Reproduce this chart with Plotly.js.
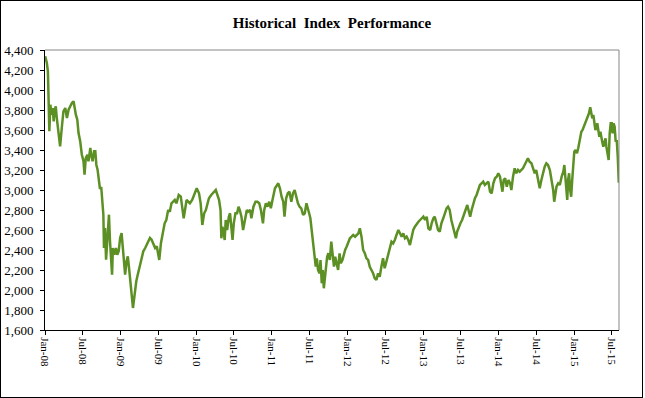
<!DOCTYPE html>
<html>
<head>
<meta charset="utf-8">
<script src="https://cdn.plot.ly/plotly-3.0.1.min.js"></script>
<style>
  html, body { margin: 0; padding: 0; background: #fff; }
  #wrap { position: absolute; left: 0; top: 0; width: 643px; height: 398px; border: 1px solid #000; box-sizing: border-box; }
  #chart { width: 641px; height: 396px; }
</style>
</head>
<body>
<div id="wrap"><div id="chart"></div></div>
<script>
// ---- Data ----
const chartTitle = 'Historical  Index  Performance';
const yTickStep = 200;
const yRange = [1600, 4400];
const xRange = ['2008-01-01', '2015-08-05'];

const dates2008 = ['2008-01-02','2008-01-10','2008-01-15','2008-01-18','2008-01-22','2008-01-27','2008-02-01','2008-02-07','2008-02-12','2008-02-16','2008-02-22','2008-02-27','2008-03-06','2008-03-14','2008-03-22','2008-03-30','2008-04-08','2008-04-16','2008-04-24','2008-05-01','2008-05-10','2008-05-18','2008-05-23','2008-05-29','2008-06-05','2008-06-11','2008-06-19','2008-06-27','2008-07-05','2008-07-10','2008-07-16','2008-07-24','2008-07-29','2008-08-07','2008-08-11','2008-08-18','2008-08-25','2008-08-31','2008-09-05','2008-09-11','2008-09-16','2008-09-22','2008-09-29','2008-10-04','2008-10-09','2008-10-12','2008-10-17','2008-10-22','2008-10-27','2008-11-01','2008-11-05','2008-11-10','2008-11-15','2008-11-20','2008-11-24','2008-12-01','2008-12-09','2008-12-15','2008-12-22','2008-12-29'];
const values2008 = [4337,4270,4187,3987,3587,3853,3753,3820,3687,3787,3837,3720,3587,3437,3620,3787,3820,3720,3803,3837,3870,3887,3803,3753,3703,3570,3487,3353,3287,3153,3320,3353,3287,3420,3353,3287,3387,3387,3253,3203,3120,3020,3020,2887,2753,2420,2620,2303,2487,2553,2753,2487,2353,2153,2420,2353,2420,2353,2387,2520];

const dates2009 = ['2009-01-05','2009-01-11','2009-01-16','2009-01-22','2009-01-29','2009-02-04','2009-02-10','2009-02-16','2009-02-22','2009-03-01','2009-03-05','2009-03-11','2009-03-17','2009-03-24','2009-03-31','2009-04-06','2009-04-12','2009-04-20','2009-04-29','2009-05-06','2009-05-14','2009-05-22','2009-05-30','2009-06-08','2009-06-16','2009-06-24','2009-07-06','2009-07-14','2009-07-22','2009-08-01','2009-08-09','2009-08-18','2009-08-26','2009-09-03','2009-09-11','2009-09-19','2009-09-27','2009-10-08','2009-10-18','2009-10-26','2009-11-01','2009-11-15','2009-11-23','2009-12-01','2009-12-12','2009-12-25'];
const values2009 = [2570,2420,2253,2153,2287,2337,2220,2087,1953,1820,1887,2020,2087,2153,2220,2287,2320,2387,2420,2453,2487,2520,2503,2453,2420,2437,2300,2467,2567,2667,2700,2800,2783,2867,2883,2900,2867,2950,2933,2800,2717,2900,2883,2867,2900,2983];

const dates2010 = ['2010-01-03','2010-01-14','2010-01-22','2010-01-30','2010-02-08','2010-02-16','2010-02-26','2010-03-03','2010-03-14','2010-03-27','2010-04-05','2010-04-13','2010-04-21','2010-04-28','2010-05-02','2010-05-07','2010-05-13','2010-05-18','2010-05-23','2010-05-30','2010-06-07','2010-06-13','2010-06-18','2010-06-25','2010-07-01','2010-07-09','2010-07-17','2010-07-24','2010-07-30','2010-08-07','2010-08-15','2010-08-23','2010-09-02','2010-09-08','2010-09-18','2010-09-24','2010-10-04','2010-10-14','2010-10-23','2010-11-01','2010-11-09','2010-11-19','2010-11-25','2010-12-03','2010-12-11','2010-12-19','2010-12-27'];
const values2010 = [3017,2967,2867,2650,2767,2800,2883,2917,2950,2983,3000,2950,2900,2800,2517,2633,2583,2500,2700,2600,2733,2767,2667,2500,2667,2767,2767,2833,2800,2733,2600,2700,2800,2783,2800,2717,2833,2883,2883,2867,2800,2667,2800,2867,2833,2883,2817];

const dates2011 = ['2011-01-04','2011-01-12','2011-01-16','2011-02-01','2011-02-09','2011-02-17','2011-02-25','2011-03-03','2011-03-11','2011-03-19','2011-03-27','2011-04-05','2011-04-13','2011-04-21','2011-04-29','2011-05-07','2011-05-15','2011-05-23','2011-06-01','2011-06-09','2011-06-17','2011-06-25','2011-06-30','2011-07-06','2011-07-12','2011-07-19','2011-07-25','2011-08-01','2011-08-06','2011-08-12','2011-08-19','2011-08-24','2011-08-30','2011-09-04','2011-09-09','2011-09-14','2011-09-19','2011-09-25','2011-10-01','2011-10-08','2011-10-15','2011-10-21','2011-10-28','2011-11-03','2011-11-09','2011-11-17','2011-11-24','2011-11-30','2011-12-08','2011-12-15','2011-12-21','2011-12-28'];
const values2011 = [2900,2983,3017,3067,3017,2933,2883,2733,2917,2967,2983,2883,2967,3000,2917,2867,2833,2817,2750,2767,2867,2783,2767,2717,2600,2467,2300,2233,2317,2200,2167,2300,2067,2200,2017,2133,2200,2333,2367,2300,2483,2333,2233,2333,2267,2200,2367,2267,2300,2367,2400,2433];

const dates2012 = ['2012-01-05','2012-01-13','2012-01-21','2012-01-29','2012-02-07','2012-02-15','2012-02-23','2012-03-01','2012-03-09','2012-03-17','2012-03-25','2012-04-02','2012-04-10','2012-04-18','2012-04-26','2012-05-04','2012-05-12','2012-05-20','2012-05-28','2012-06-05','2012-06-13','2012-06-21','2012-06-29','2012-07-07','2012-07-15','2012-07-23','2012-08-01','2012-08-09','2012-08-17','2012-08-25','2012-09-03','2012-09-11','2012-09-19','2012-09-27','2012-10-05','2012-10-13','2012-10-21','2012-10-29','2012-11-06','2012-11-14','2012-11-22','2012-12-01','2012-12-09','2012-12-17','2012-12-25'];
const values2012 = [2483,2517,2533,2550,2533,2550,2567,2617,2533,2400,2367,2317,2300,2233,2200,2167,2117,2100,2167,2133,2233,2317,2217,2283,2367,2433,2483,2467,2500,2550,2600,2567,2533,2567,2517,2533,2500,2450,2533,2600,2633,2667,2683,2700,2717];

const dates2013 = ['2013-01-02','2013-01-10','2013-01-18','2013-01-26','2013-02-04','2013-02-11','2013-02-19','2013-02-26','2013-03-06','2013-03-14','2013-03-22','2013-03-30','2013-04-08','2013-04-16','2013-04-24','2013-05-01','2013-05-09','2013-05-17','2013-05-25','2013-06-03','2013-06-08','2013-06-14','2013-06-22','2013-06-30','2013-07-08','2013-07-16','2013-07-24','2013-08-02','2013-08-10','2013-08-16','2013-08-23','2013-08-31','2013-09-08','2013-09-16','2013-09-24','2013-10-02','2013-10-10','2013-10-18','2013-10-26','2013-11-04','2013-11-12','2013-11-20','2013-11-28','2013-12-06','2013-12-14','2013-12-22','2013-12-30'];
const values2013 = [2733,2700,2733,2617,2600,2667,2717,2733,2667,2600,2583,2667,2717,2767,2817,2833,2800,2700,2633,2567,2517,2583,2633,2667,2700,2750,2800,2850,2783,2733,2800,2867,2917,2950,3000,3050,3067,3083,3050,3067,3083,2983,2967,3067,3117,3133,3167];

const dates2014 = ['2014-01-07','2014-01-12','2014-01-19','2014-01-25','2014-02-01','2014-02-09','2014-02-17','2014-02-25','2014-03-03','2014-03-11','2014-03-19','2014-03-27','2014-04-04','2014-04-12','2014-04-20','2014-04-28','2014-05-06','2014-05-14','2014-05-22','2014-05-30','2014-06-08','2014-06-16','2014-06-24','2014-07-01','2014-07-09','2014-07-18','2014-07-26','2014-08-03','2014-08-11','2014-08-19','2014-08-27','2014-09-05','2014-09-13','2014-09-21','2014-09-26','2014-10-01','2014-10-07','2014-10-15','2014-10-23','2014-11-01','2014-11-09','2014-11-14','2014-11-18','2014-11-23','2014-11-28','2014-12-02','2014-12-07','2014-12-12','2014-12-17','2014-12-22','2014-12-27'];
const values2014 = [3133,3050,2983,3100,3117,3033,3100,3067,3000,3133,3217,3167,3200,3183,3200,3217,3250,3283,3317,3283,3267,3217,3167,3200,3117,3017,3100,3167,3233,3267,3250,3200,3100,3000,2883,2983,3033,3067,3050,3133,3183,3250,3133,3000,2900,3100,3167,3000,2933,3100,3233];

const dates2015 = ['2015-01-01','2015-01-07','2015-01-14','2015-01-20','2015-01-28','2015-02-04','2015-02-10','2015-02-16','2015-02-22','2015-02-28','2015-03-06','2015-03-13','2015-03-19','2015-03-24','2015-03-29','2015-04-03','2015-04-08','2015-04-13','2015-04-17','2015-04-22','2015-04-27','2015-05-02','2015-05-07','2015-05-12','2015-05-16','2015-05-21','2015-05-26','2015-06-01','2015-06-05','2015-06-11','2015-06-16','2015-06-21','2015-06-26','2015-07-01','2015-07-05','2015-07-10','2015-07-15','2015-07-20','2015-07-25','2015-07-30','2015-08-04'];
const values2015 = [3383,3400,3367,3417,3533,3583,3600,3633,3683,3700,3733,3767,3827,3767,3717,3750,3667,3600,3617,3667,3600,3533,3583,3500,3483,3433,3467,3517,3433,3367,3300,3567,3667,3667,3567,3667,3633,3483,3500,3333,3073];

const allDates = [].concat(dates2008, dates2009, dates2010, dates2011, dates2012, dates2013, dates2014, dates2015);
const allValues = [].concat(values2008, values2009, values2010, values2011, values2012, values2013, values2014, values2015);

// ---- Styling ----
const serif = 'Liberation Serif, Times New Roman, serif';
const trace = {
  type: 'scatter', mode: 'lines',
  x: allDates, y: allValues,
  line: { color: '#5c9024', width: 2.5 },
  hoverinfo: 'skip', showlegend: false
};

const layout = {
  width: 641, height: 396,
  margin: { l: 44, r: 23, t: 49, b: 67, pad: 0 },
  paper_bgcolor: '#fff', plot_bgcolor: '#fff',
  title: {
    text: '<b>' + chartTitle + '</b>',
    font: { family: serif, size: 15, color: '#000' },
    x: 0.5, xref: 'paper', xanchor: 'center',
    y: 1 - 22/396, yref: 'container', yanchor: 'middle'
  },
  xaxis: {
    type: 'date', range: xRange,
    tick0: '2008-01-01', dtick: 'M6', tickformat: '%b-%y',
    tickangle: 90, ticks: 'outside', ticklen: 4, tickcolor: '#000', tickwidth: 1,
    showline: true, linecolor: '#000', linewidth: 1,
    showgrid: false, zeroline: false,
    tickfont: { family: serif, size: 11, color: '#000' }
  },
  yaxis: {
    range: yRange, tick0: yRange[0], dtick: yTickStep, tickformat: ',d',
    ticks: 'outside', ticklen: 4, tickcolor: '#000', tickwidth: 1,
    showline: true, linecolor: '#000', linewidth: 1,
    showgrid: false, zeroline: false,
    ticklabelstandoff: 4,
    tickfont: { family: serif, size: 13, color: '#000' }
  },
  shapes: [
    { type: 'line', xref: 'paper', yref: 'paper', x0: 0, x1: 1, y0: 1, y1: 1, line: { color: '#868686', width: 1 } },
    { type: 'line', xref: 'paper', yref: 'paper', x0: 1, x1: 1, y0: 0, y1: 1, line: { color: '#868686', width: 1 } }
  ]
};

Plotly.newPlot('chart', [trace], layout, { staticPlot: true, displayModeBar: false });
</script>
</body>
</html>
